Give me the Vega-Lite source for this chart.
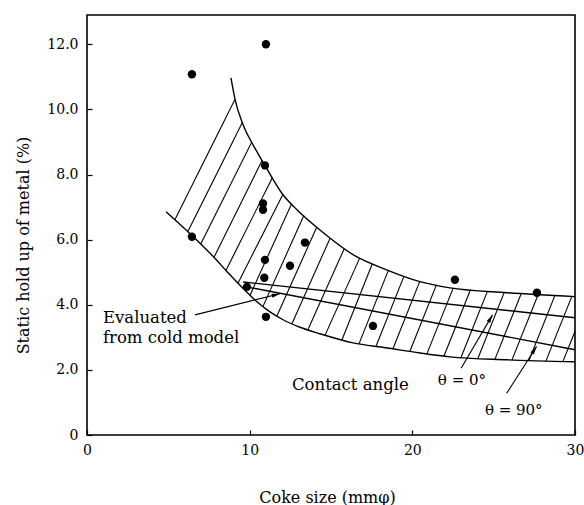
{
  "$schema": "https://vega.github.io/schema/vega-lite/v6.json",
  "width": 488,
  "height": 420,
  "autosize": {"type": "none"},
  "padding": {"left": 87, "top": 15, "right": 9, "bottom": 70},
  "background": "white",
  "config": {
    "view": {"stroke": "black", "strokeWidth": 1.6},
    "font": "DejaVu Serif"
  },
  "datasets": {
    "pts": [
      {"x": 6.45, "y": 11.08}, {"x": 11.0, "y": 12.0}, {"x": 6.45, "y": 6.09},
      {"x": 10.94, "y": 8.28}, {"x": 10.82, "y": 7.11}, {"x": 10.82, "y": 6.92},
      {"x": 10.94, "y": 5.38}, {"x": 10.9, "y": 4.83}, {"x": 9.83, "y": 4.55},
      {"x": 12.48, "y": 5.2}, {"x": 11.0, "y": 3.63}, {"x": 13.4, "y": 5.91},
      {"x": 22.62, "y": 4.77}, {"x": 27.66, "y": 4.37}, {"x": 17.58, "y": 3.35}
    ],
    "curves": [
      {"c": "upper", "x": 8.85, "y": 10.97}, {"c": "upper", "x": 9.10, "y": 10.31},
      {"c": "upper", "x": 9.59, "y": 9.54}, {"c": "upper", "x": 10.20, "y": 8.92},
      {"c": "upper", "x": 10.94, "y": 8.28}, {"c": "upper", "x": 12.05, "y": 7.38},
      {"c": "upper", "x": 12.91, "y": 6.92}, {"c": "upper", "x": 14.51, "y": 6.22},
      {"c": "upper", "x": 16.35, "y": 5.54}, {"c": "upper", "x": 18.38, "y": 5.08},
      {"c": "upper", "x": 20.47, "y": 4.71}, {"c": "upper", "x": 22.31, "y": 4.52},
      {"c": "upper", "x": 25.81, "y": 4.37}, {"c": "upper", "x": 30.0, "y": 4.25},
      {"c": "lower", "x": 4.86, "y": 6.86}, {"c": "lower", "x": 6.45, "y": 6.13},
      {"c": "lower", "x": 7.99, "y": 5.36}, {"c": "lower", "x": 8.6, "y": 5.02},
      {"c": "lower", "x": 9.6, "y": 4.5}, {"c": "lower", "x": 10.43, "y": 4.1},
      {"c": "lower", "x": 11.25, "y": 3.78}, {"c": "lower", "x": 12.05, "y": 3.54},
      {"c": "lower", "x": 13.09, "y": 3.31},
      {"c": "lower", "x": 14.32, "y": 3.11}, {"c": "lower", "x": 16.35, "y": 2.83},
      {"c": "lower", "x": 18.38, "y": 2.68}, {"c": "lower", "x": 20.47, "y": 2.52},
      {"c": "lower", "x": 22.31, "y": 2.40}, {"c": "lower", "x": 25.81, "y": 2.31},
      {"c": "lower", "x": 30.0, "y": 2.25},
      {"c": "theta0", "x": 9.6, "y": 4.7}, {"c": "theta0", "x": 30.0, "y": 3.6},
      {"c": "theta90", "x": 9.8, "y": 4.55}, {"c": "theta90", "x": 30.0, "y": 2.62}
    ],
    "hatch": [
      {"x": 5.41, "y": 6.62, "x2": 9.10, "y2": 10.31},
      {"x": 6.21, "y": 6.26, "x2": 9.55, "y2": 9.60},
      {"x": 7.01, "y": 5.88, "x2": 10.13, "y2": 9.00},
      {"x": 7.81, "y": 5.46, "x2": 10.76, "y2": 8.43},
      {"x": 8.54, "y": 5.05, "x2": 11.40, "y2": 7.91},
      {"x": 9.28, "y": 4.66, "x2": 12.04, "y2": 7.39},
      {"x": 10.02, "y": 4.29, "x2": 12.58, "y2": 7.10},
      {"x": 10.82, "y": 3.95, "x2": 13.33, "y2": 6.74},
      {"x": 11.68, "y": 3.66, "x2": 14.12, "y2": 6.38},
      {"x": 12.60, "y": 3.42, "x2": 14.95, "y2": 6.05},
      {"x": 13.58, "y": 3.23, "x2": 15.82, "y2": 5.73},
      {"x": 14.63, "y": 3.06, "x2": 16.77, "y2": 5.44},
      {"x": 15.67, "y": 2.92, "x2": 17.54, "y2": 5.26},
      {"x": 16.72, "y": 2.80, "x2": 18.52, "y2": 5.05},
      {"x": 17.76, "y": 2.72, "x2": 19.49, "y2": 4.88},
      {"x": 18.81, "y": 2.65, "x2": 20.45, "y2": 4.71},
      {"x": 19.85, "y": 2.57, "x2": 21.48, "y2": 4.61},
      {"x": 20.90, "y": 2.50, "x2": 22.51, "y2": 4.51},
      {"x": 21.94, "y": 2.42, "x2": 23.58, "y2": 4.47},
      {"x": 22.99, "y": 2.38, "x2": 24.62, "y2": 4.42},
      {"x": 24.03, "y": 2.35, "x2": 25.65, "y2": 4.38},
      {"x": 25.08, "y": 2.33, "x2": 26.69, "y2": 4.34},
      {"x": 26.12, "y": 2.30, "x2": 27.73, "y2": 4.31},
      {"x": 27.17, "y": 2.29, "x2": 28.76, "y2": 4.28},
      {"x": 28.21, "y": 2.27, "x2": 29.80, "y2": 4.25},
      {"x": 29.26, "y": 2.26, "x2": 30.0, "y2": 3.18}
    ],
    "arrows": [
      {"name": "eval", "x": 6.64, "y": 3.69, "x2": 11.86, "y2": 4.34},
      {"name": "t0", "x": 23.0, "y": 2.05, "x2": 24.93, "y2": 3.69},
      {"name": "t90", "x": 25.8, "y": 1.28, "x2": 27.64, "y2": 2.72}
    ],
    "heads": [
      {"name": "eval", "x": 11.86, "y": 4.34},
      {"name": "t0", "x": 24.93, "y": 3.69},
      {"name": "t90", "x": 27.64, "y": 2.72}
    ],
    "notes": [
      {"label": "Evaluated", "x": 0.98, "y": 3.6},
      {"label": "from cold model", "x": 0.98, "y": 2.98},
      {"label": "Contact angle", "x": 12.6, "y": 1.54}
    ],
    "thetas": [
      {"label": "θ = 0°", "x": 21.57, "y": 1.69},
      {"label": "θ = 90°", "x": 24.46, "y": 0.77}
    ]
  },
  "encoding": {
    "x": {
      "field": "x", "type": "quantitative",
      "scale": {"domain": [0, 30], "nice": false, "zero": false},
      "axis": {
        "values": [0, 10, 20, 30], "format": "d", "domain": false, "grid": false,
        "ticks": true, "tickSize": -5, "tickColor": "black", "tickWidth": 1.2,
        "labelFont": "DejaVu Serif", "labelFontSize": 14, "labelColor": "black",
        "labelPadding": 13, "labelFlush": false,
        "title": "Coke size (mmφ)", "titleFont": "DejaVu Serif", "titleFontSize": 16,
        "titleFontWeight": "normal", "titleColor": "black",
        "titleX": 240, "titleY": 62, "titleAlign": "center", "titleBaseline": "middle"
      }
    },
    "y": {
      "field": "y", "type": "quantitative",
      "scale": {"domain": [0, 12.9], "nice": false, "zero": false},
      "axis": {
        "values": [0, 2, 4, 6, 8, 10, 12], "domain": false, "grid": false,
        "labelExpr": "datum.value === 0 ? '0' : format(datum.value, '.1f')",
        "ticks": true, "tickSize": -5, "tickColor": "black", "tickWidth": 1.2,
        "labelFont": "DejaVu Serif", "labelFontSize": 14, "labelColor": "black",
        "labelPadding": 14, "labelFlush": false,
        "title": "Static hold up of metal (%)", "titleFont": "DejaVu Serif", "titleFontSize": 16,
        "titleFontWeight": "normal", "titleColor": "black",
        "titleX": -64, "titleY": 230, "titleAngle": 270, "titleAlign": "center", "titleBaseline": "middle"
      }
    }
  },
  "layer": [
    {
      "data": {"name": "hatch"},
      "mark": {"type": "rule", "color": "black", "strokeWidth": 1.1},
      "encoding": {"x2": {"field": "x2"}, "y2": {"field": "y2"}}
    },
    {
      "data": {"name": "curves"},
      "mark": {"type": "line", "interpolate": "monotone", "color": "black", "strokeWidth": 1.4},
      "encoding": {"detail": {"field": "c"}}
    },
    {
      "data": {"name": "arrows"},
      "mark": {"type": "rule", "color": "black", "strokeWidth": 1.1},
      "encoding": {"x2": {"field": "x2"}, "y2": {"field": "y2"}}
    },
    {
      "data": {"name": "heads"},
      "transform": [{"filter": {"field": "name", "equal": "eval"}}],
      "mark": {"type": "point", "shape": "M0,0L-0.32,1.3L0.32,1.3Z", "size": 160, "filled": true, "color": "black", "opacity": 1, "angle": 76}
    },
    {
      "data": {"name": "heads"},
      "transform": [{"filter": {"field": "name", "equal": "t0"}}],
      "mark": {"type": "point", "shape": "M0,0L-0.32,1.3L0.32,1.3Z", "size": 160, "filled": true, "color": "black", "opacity": 1, "angle": 30}
    },
    {
      "data": {"name": "heads"},
      "transform": [{"filter": {"field": "name", "equal": "t90"}}],
      "mark": {"type": "point", "shape": "M0,0L-0.32,1.3L0.32,1.3Z", "size": 160, "filled": true, "color": "black", "opacity": 1, "angle": 33}
    },
    {
      "data": {"name": "pts"},
      "mark": {"type": "circle", "size": 70, "color": "black", "opacity": 1}
    },
    {
      "data": {"name": "notes"},
      "mark": {"type": "text", "align": "left", "baseline": "middle", "font": "DejaVu Serif", "fontSize": 16.5, "color": "black"},
      "encoding": {"text": {"field": "label"}}
    },
    {
      "data": {"name": "thetas"},
      "mark": {"type": "text", "align": "left", "baseline": "middle", "font": "DejaVu Serif", "fontSize": 15, "color": "black"},
      "encoding": {"text": {"field": "label"}}
    }
  ]
}
